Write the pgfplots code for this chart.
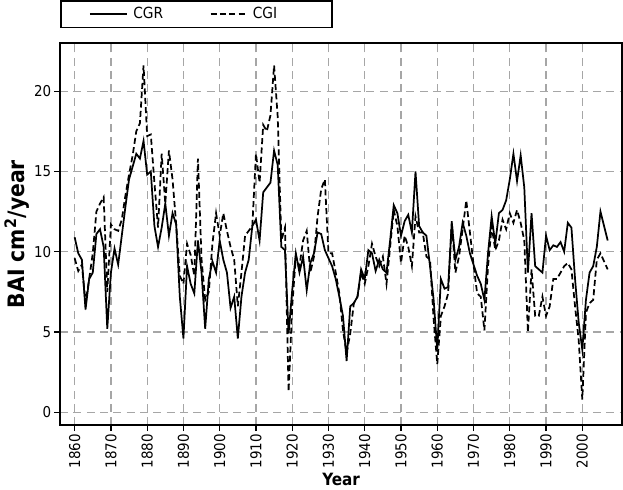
\documentclass[border=0pt]{standalone}
\usepackage{fontspec}
\setmainfont{DejaVu Sans Condensed}
\usepackage{pgfplots}
\usepackage{pgfplotstable}
\pgfplotsset{compat=1.18}

% annual BAI
\pgfplotstableread{
year cgr cgi
1860 10.9 9.6
1861 9.9 8.8
1862 9.5 9.2
1863 6.4 6.8
1864 8.3 8.3
1865 8.7 9.9
1866 11.1 12.5
1867 11.4 13.0
1868 10.3 13.4
1869 5.2 7.5
1870 8.7 11.7
1871 10.2 11.4
1872 9.2 11.3
1873 11.0 12.0
1874 12.8 13.5
1875 14.5 14.8
1876 15.3 16.0
1877 16.1 17.5
1878 15.8 18.0
1879 16.9 21.6
1880 14.8 17.2
1881 15.0 17.3
1882 11.6 14.3
1883 10.3 11.5
1884 11.5 16.1
1885 13.0 13.0
1886 11.0 16.3
1887 12.4 14.5
1888 11.7 11.7
1889 7.2 8.5
1890 4.6 8.0
1891 9.1 10.5
1892 8.0 9.8
1893 7.4 8.5
1894 10.7 15.8
1895 8.7 9.5
1896 5.2 7.0
1897 8.3 7.5
1898 9.4 10.5
1899 8.7 12.4
1900 10.7 11.0
1901 9.5 12.4
1902 8.7 11.3
1903 6.5 10.3
1904 7.2 9.5
1905 4.6 6.6
1906 7.2 8.7
1907 8.7 11.0
1908 9.5 11.3
1909 11.6 11.6
1910 12.0 16.1
1911 10.7 14.3
1912 13.7 17.9
1913 14.0 17.5
1914 14.3 18.5
1915 16.3 21.6
1916 15.4 18.4
1917 10.3 10.7
1918 10.1 11.5
1919 4.9 1.3
1920 7.6 6.6
1921 9.9 9.7
1922 8.7 9.1
1923 9.7 10.7
1924 7.6 11.3
1925 9.3 8.7
1926 9.9 9.7
1927 11.2 12.2
1928 11.1 13.9
1929 10.1 14.5
1930 9.6 9.9
1931 9.1 9.9
1932 8.3 8.7
1933 7.2 7.4
1934 6.0 5.1
1935 3.2 3.7
1936 6.6 4.9
1937 6.8 6.8
1938 7.2 7.2
1939 8.9 8.7
1940 8.3 8.0
1941 10.1 9.1
1942 9.9 10.5
1943 8.8 9.7
1944 9.5 9.1
1945 8.9 9.7
1946 8.7 8.0
1947 10.7 10.3
1948 12.9 12.6
1949 12.4 11.6
1950 11.0 9.3
1951 11.9 11.0
1952 12.3 10.3
1953 11.2 9.1
1954 15.0 12.2
1955 11.6 11.2
1956 11.2 11.2
1957 11.0 9.7
1958 9.1 9.5
1959 7.0 5.8
1960 3.9 3.0
1961 8.3 6.0
1962 7.7 6.6
1963 7.8 7.4
1964 11.8 11.9
1965 9.5 8.7
1966 10.3 9.7
1967 11.8 11.4
1968 11.0 13.2
1969 9.9 11.2
1970 9.2 9.2
1971 8.5 7.4
1972 8.0 7.2
1973 7.0 5.1
1974 9.9 9.1
1975 12.2 11.6
1976 10.5 10.1
1977 12.4 10.7
1978 12.6 12.0
1979 13.2 11.4
1980 14.5 12.4
1981 16.1 11.8
1982 14.4 12.6
1983 16.0 11.8
1984 14.0 10.7
1985 8.7 5.0
1986 12.4 8.9
1987 9.1 6.0
1988 8.9 6.0
1989 8.7 7.2
1990 11.0 6.0
1991 10.1 6.6
1992 10.4 8.3
1993 10.3 8.3
1994 10.6 8.7
1995 10.0 9.1
1996 11.8 9.3
1997 11.5 8.9
1998 8.3 6.6
1999 5.6 4.5
2000 3.9 0.8
2001 7.0 6.2
2002 8.7 6.8
2003 9.1 7.0
2004 10.3 9.5
2005 12.5 9.9
2006 11.6 9.4
2007 10.7 8.9
}\bai

\begin{document}
\begin{tikzpicture}
\begin{axis}[
    width=422pt, height=287pt,
    scale only axis,
    xmin=1856, xmax=2011,
    ymin=-0.8, ymax=23,
    xtick={1860,1870,...,2000},
    ytick={0,5,...,20},
    tick pos=left,
    tick align=outside,
    major tick length=4.5pt,
    every tick/.style={black, line width=0.9pt},
    axis line style={line width=1.2pt},
    /pgf/number format/1000 sep={},
    /pgf/number format/assume math mode=true,
    tick label style={font=\fontsize{11.2}{13}\selectfont},
    x tick label style={rotate=90, anchor=east, inner sep=2pt},
    y tick label style={inner sep=2pt},
    grid=major,
    grid style={gray!70, line width=0.9pt, dash pattern=on 6pt off 4pt},
    xlabel={\textbf{Year}},
    ylabel={\textbf{BAI cm\textsuperscript{2}/year}},
    xlabel style={font=\fontsize{12.7}{14}\selectfont, yshift=2pt},
    ylabel style={font=\fontsize{17}{19}\selectfont, yshift=-2pt},
    legend columns=2,
    legend style={
        at={(0,1)}, anchor=south west, yshift=11pt,
        draw=black, line width=1.2pt,
        inner xsep=21pt, inner ysep=3pt,
        font=\fontsize{11.5}{13}\selectfont,
        /tikz/every even column/.append style={column sep=33pt},
    },
    legend image code/.code={\draw[#1] (0pt,0pt) -- (28pt,0pt);},
]
\addplot[black, line width=1.3pt] table[x=year, y=cgr] {\bai};
\addlegendentry{\hspace*{2pt}CGR}
\addplot[black, line width=1.3pt, dash pattern=on 4.5pt off 2.5pt] table[x=year, y=cgi] {\bai};
\addlegendentry{\hspace*{1pt}CGI\hspace*{18pt}}
\end{axis}
\end{tikzpicture}
\end{document}
